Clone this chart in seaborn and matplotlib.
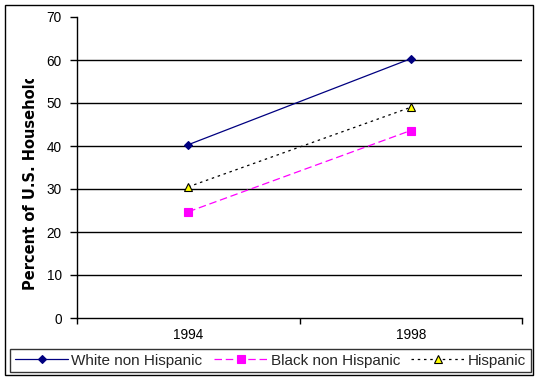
import matplotlib
matplotlib.use("Agg")
import matplotlib.pyplot as plt
import seaborn as sns
import pandas as pd
from matplotlib.patches import Rectangle
from matplotlib.transforms import Bbox, TransformedBbox

years = ["1994", "1998"]
white = [40.3, 60.3]
black = [24.7, 43.6]
hispanic = [30.5, 49.0]
series_names = ["White non Hispanic", "Black non Hispanic", "Hispanic"]
y_ticks = [0, 10, 20, 30, 40, 50, 60, 70]

sns.set_theme(style="white")
plt.rcParams["font.family"] = ["Liberation Sans", "DejaVu Sans"]

df = pd.DataFrame({
    "idx": list(range(len(years))) * 3,
    "value": white + black + hispanic,
    "series": [series_names[0]] * 2 + [series_names[1]] * 2 + [series_names[2]] * 2,
})

fig = plt.figure(figsize=(5.4, 3.8), dpi=100)
ax = fig.add_axes([77 / 540, 62 / 380, 445 / 540, 301 / 380])

styles = {
    series_names[0]: dict(color="#000080", marker="D", ms=4.5, mfc="#000080", mec="#000080", dashes=None),
    series_names[1]: dict(color="#FF00FF", marker="s", ms=5.5, mfc="#FF00FF", mec="#FF00FF", dashes=(6, 3)),
    series_names[2]: dict(color="black", marker="^", ms=6, mfc="#FFFF00", mec="black", dashes=(2, 3)),
}

for name in series_names:
    st = styles[name]
    sub = df[df["series"] == name]
    sns.lineplot(data=sub, x="idx", y="value", ax=ax, color=st["color"], lw=0.9,
                 marker=st["marker"], markersize=st["ms"], markerfacecolor=st["mfc"],
                 markeredgecolor=st["mec"], markeredgewidth=0.8, label=name, legend=False)
    line = ax.get_lines()[-1]
    if st["dashes"] is not None:
        line.set_dashes(st["dashes"])

ax.set_xlim(-0.5, 1.5)
ax.set_ylim(0, 70)
ax.set_yticks(y_ticks)
ax.set_xticks(range(len(years)))
ax.set_xticklabels(years)
ax.set_xticks([-0.5, 0.5, 1.5], minor=True)
ax.tick_params(axis="x", which="major", length=0, pad=7, labelsize=9.8, colors="black")
ax.tick_params(axis="x", which="minor", length=4, width=1, direction="out", color="black", bottom=True)
ax.tick_params(axis="y", which="major", length=5, width=1, direction="out", pad=6, labelsize=9.8,
               left=True, colors="black")
ax.set_xlabel("")
ax.set_ylabel("")

for v in y_ticks[1:-1]:
    ax.axhline(v, color="black", lw=1, zorder=0.5)

for side in ["top", "right"]:
    ax.spines[side].set_visible(False)
for side in ["left", "bottom"]:
    ax.spines[side].set_color("black")
    ax.spines[side].set_linewidth(1)

# y label, clipped at top as in the reference
lab = fig.text(31 / 540, 90 / 380, "Percent of U.S. Households", rotation=90,
               ha="center", va="bottom", fontsize=10.5, fontweight="bold", color="black",
               family=["DejaVu Sans"])
lab.set_clip_box(TransformedBbox(Bbox([[0, 0], [1, (380 - 79) / 380]]), fig.transFigure))
lab.set_clip_on(True)

handles, labels = ax.get_legend_handles_labels()
leg = fig.legend(handles, labels, loc="center", ncol=3,
                 bbox_to_anchor=(270.5 / 540, 19.5 / 380),
                 frameon=True, fancybox=False, shadow=False, fontsize=11,
                 handlelength=3.5, handletextpad=0.2, columnspacing=0.75,
                 borderpad=0.3, borderaxespad=0)
leg.get_frame().set_edgecolor("black")
leg.get_frame().set_linewidth(1)

fig.patches.append(Rectangle((5 / 540, 5 / 380), 528 / 540, 370 / 380, transform=fig.transFigure,
                             fill=False, edgecolor="black", lw=1))

fig.savefig("out.png", dpi=100)
